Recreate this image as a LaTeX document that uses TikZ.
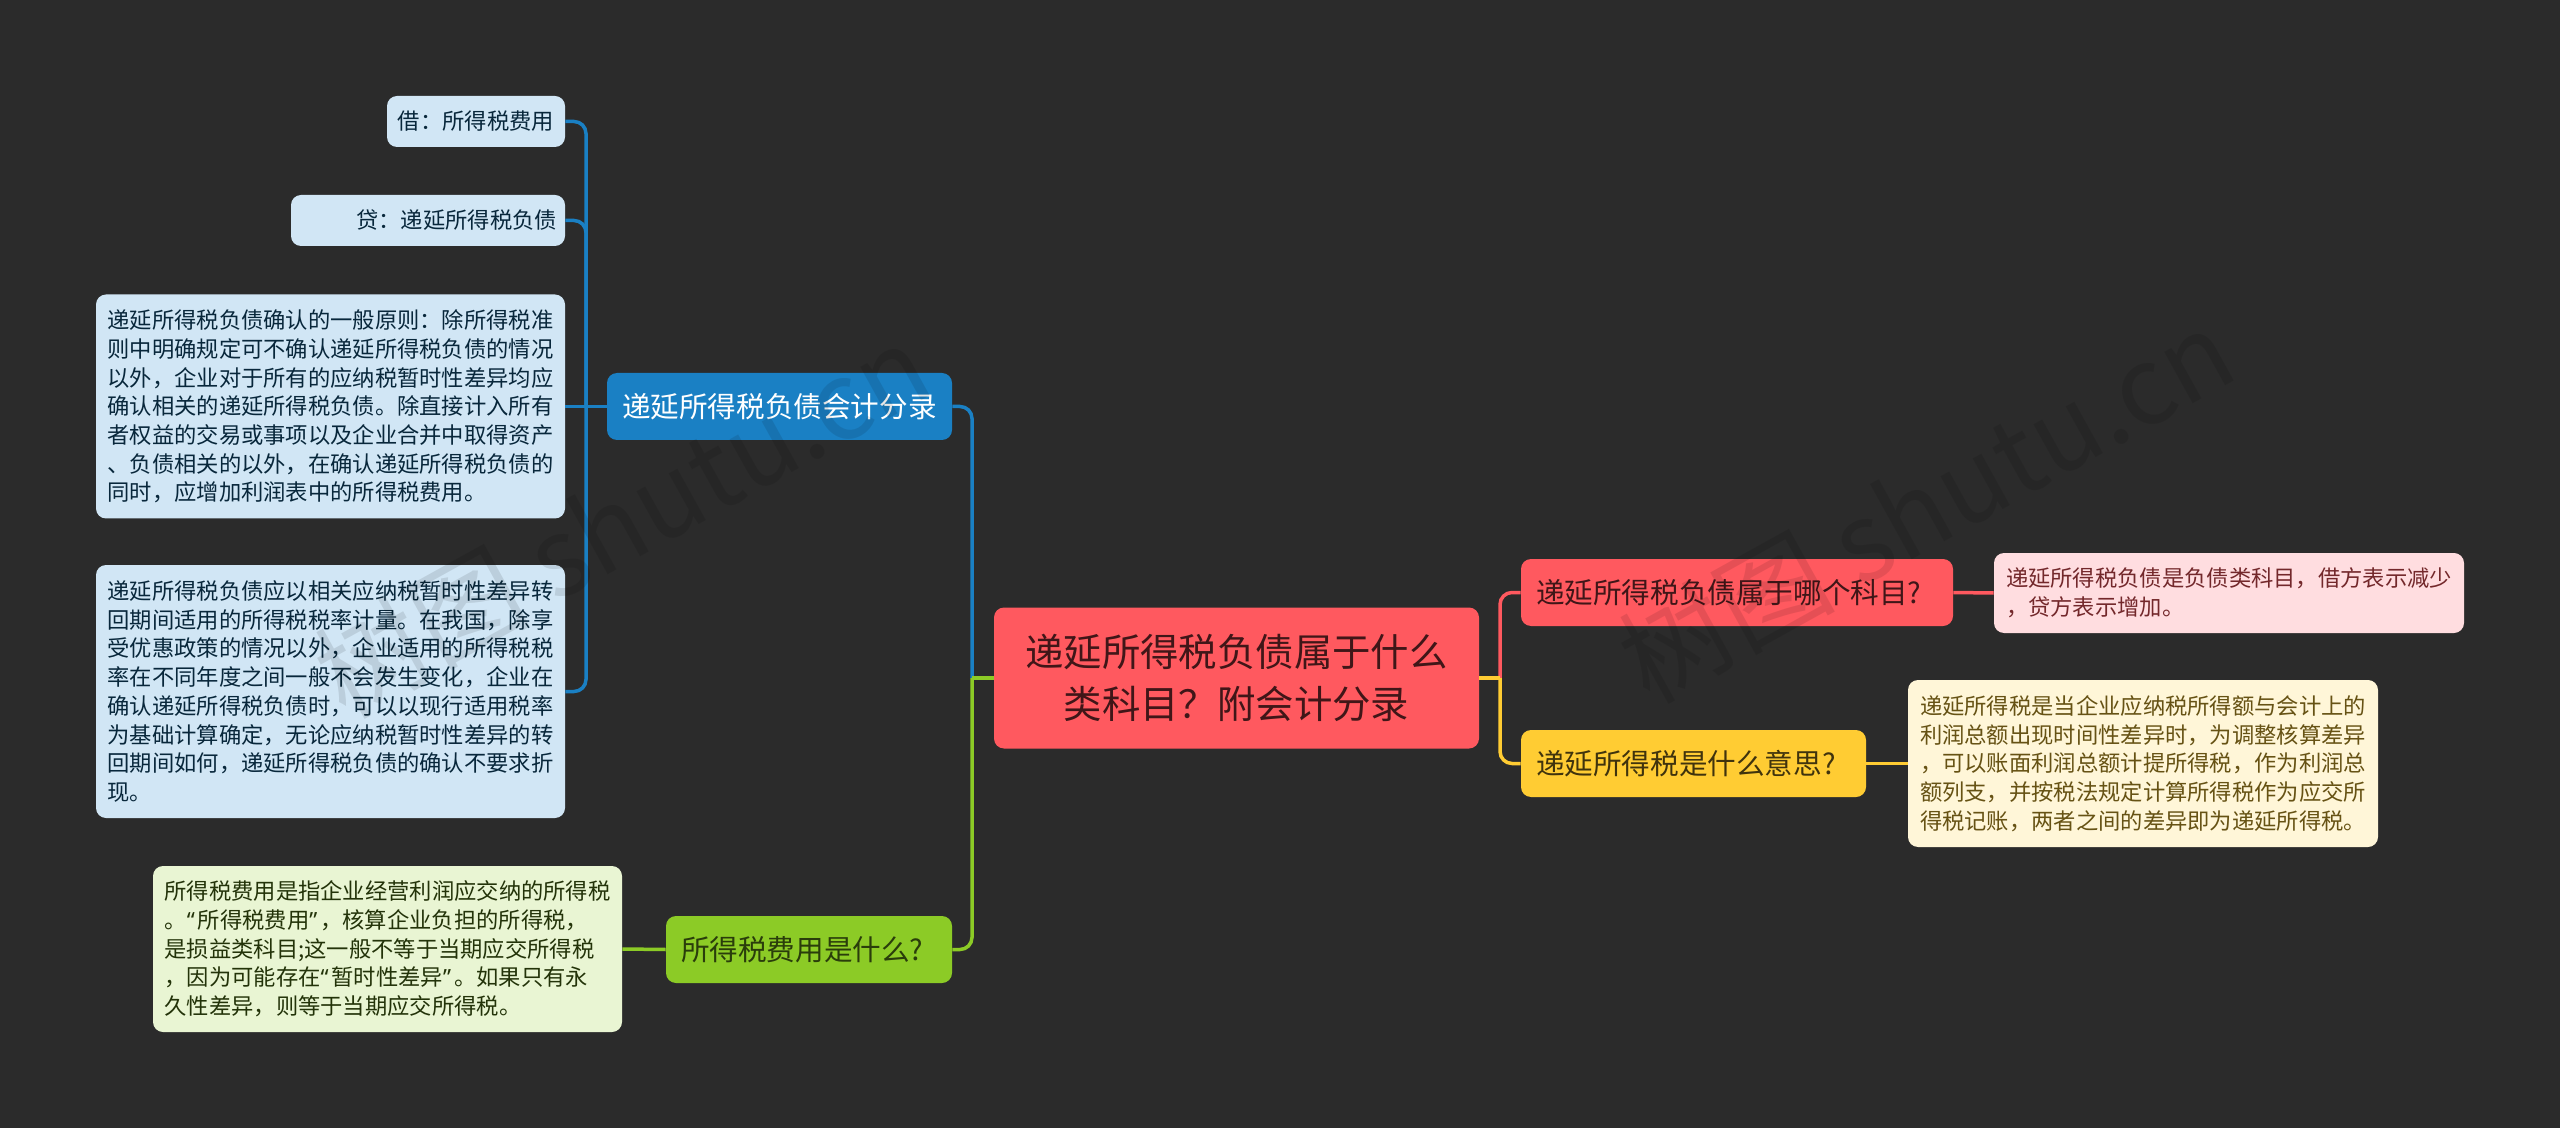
\documentclass[tikz,border=0pt]{standalone}
\usepackage{fontspec}
\setmainfont{Noto Sans CJK SC}
\newfontfamily\quotefont{Noto Sans}
\usetikzlibrary{positioning}
\definecolor{pagebg}{HTML}{2B2B2B}
\definecolor{rootred}{HTML}{FF595F}
\definecolor{blueline}{HTML}{1A80C4}
\definecolor{greenline}{HTML}{8CCB26}
\definecolor{goldline}{HTML}{FFCC33}
\definecolor{leafblue}{HTML}{D1E6F5}
\definecolor{leafgreen}{HTML}{E9F5D3}
\definecolor{leafred}{HTML}{FFDDE0}
\definecolor{leafgold}{HTML}{FFF6D8}
\newcommand{\oq}{{\quotefont “}\kern1.5pt}
\newcommand{\cq}{{\quotefont ”}\kern1.5pt}

\begin{document}
\begin{tikzpicture}
[x=0.5pt,y=-0.5pt,%
  mapbox/.style={shape=rectangle,rounded corners=5pt,inner sep=0pt,align=left},%
  rootbox/.style={mapbox,fill=rootred,text=rootred!25!black,align=center,%
    font=\fontsize{19.2pt}{26pt}\selectfont},%
  branchbox/.style={mapbox,font=\fontsize{14.3pt}{18pt}\selectfont,minimum height=33.5pt,inner xsep=7.5pt},%
  leafbox/.style={mapbox,font=\fontsize{11.15pt}{14.35pt}\selectfont},%
  wmark/.style={font=\fontsize{54pt}{54pt}\selectfont,rotate=29,text=black,text opacity=.1},%
  link/.style={line width=1.75pt,rounded corners=6pt},%
  stub/.style={line width=1.75pt}]
\fill[pagebg] (0,0) rectangle (2560,1128);

\node[rootbox,minimum width=242.5pt,minimum height=70.5pt] (root) at (1236.5,678) {递延所得税负债属于什么\\类科目？附会计分录};

\node[branchbox,fill=blueline,text=white,text width=157.5pt] (acct) at (779.5,406.5) {递延所得税负债会计分录};
\node[branchbox,fill=greenline,text=greenline!30!black,text width=128pt] (expense) at (809,949.5) {所得税费用是什么?};
\node[branchbox,fill=rootred,text=rootred!25!black,text width=201pt] (subject) at (1737,592.5) {递延所得税负债属于哪个科目?};
\node[branchbox,fill=goldline,text=goldline!25!black,text width=157.5pt] (meaning) at (1693.5,763.5) {递延所得税是什么意思?};

\node[leafbox,fill=leafblue,text=blueline!30!black,minimum width=89pt,minimum height=25.5pt] (debit) at (476,121.5) {借：所得税费用};
\node[leafbox,fill=leafblue,text=blueline!30!black,minimum width=137pt,minimum height=25.5pt,text width=129pt,align=right] (credit) at (428,220.5) {贷：递延所得税负债};
\node[leafbox,fill=leafblue,text=blueline!30!black,minimum width=234.5pt,minimum height=112pt] (rule) at (330.5,406.5) {递延所得税负债确认的一般原则：除所得税准\\则中明确规定可不确认递延所得税负债的情况\\以外，企业对于所有的应纳税暂时性差异均应\\确认相关的递延所得税负债。除直接计入所有\\者权益的交易或事项以及企业合并中取得资产\\、负债相关的以外，在确认递延所得税负债的\\同时，应增加利润表中的所得税费用。};
\node[leafbox,fill=leafblue,text=blueline!30!black,minimum width=234.5pt,minimum height=126.5pt] (rate) at (330.5,691.5) {递延所得税负债应以相关应纳税暂时性差异转\\回期间适用的所得税税率计量。在我国，除享\\受优惠政策的情况以外，企业适用的所得税税\\率在不同年度之间一般不会发生变化，企业在\\确认递延所得税负债时，可以以现行适用税率\\为基础计算确定，无论应纳税暂时性差异的转\\回期间如何，递延所得税负债的确认不要求折\\现。};
\node[leafbox,fill=leafgreen,text=greenline!25!black,minimum width=234.5pt,minimum height=83pt] (define) at (387.5,949) {所得税费用是指企业经营利润应交纳的所得税\\。\oq 所得税费用\cq ，核算企业负担的所得税，\\是损益类科目;这一般不等于当期应交所得税\\，因为可能存在\oq 暂时性差异\cq 。如果只有永\\久性差异，则等于当期应交所得税。};
\node[leafbox,fill=leafred,text=rootred!45!black,minimum width=235pt,minimum height=40pt] (liability) at (2229,593) {递延所得税负债是负债类科目，借方表示减少\\，贷方表示增加。};
\node[leafbox,fill=leafgold,text=goldline!40!black,minimum width=235pt,minimum height=83.5pt] (timing) at (2143,763.5) {递延所得税是当企业应纳税所得额与会计上的\\利润总额出现时间性差异时，为调整核算差异\\，可以账面利润总额计提所得税，作为利润总\\额列支，并按税法规定计算所得税作为应交所\\得税记账，两者之间的差异即为递延所得税。};

\coordinate (leftjoin) at (586,406.5);
\coordinate (midjoin) at (972,678);
\coordinate (rightjoin) at (1500,678);

\draw[link,blueline] (debit.east) -| (leftjoin);
\draw[link,blueline] (credit.east) -| (leftjoin);
\draw[link,blueline] (rate.east) -| (leftjoin);
\draw[stub,blueline] (rule.east) -- (acct.west);
\draw[link,blueline] (acct.east) -| (midjoin);
\draw[link,greenline] (expense.east) -| (midjoin);
\draw[stub,greenline] (midjoin) -- (root.west);
\draw[stub,greenline] (define.east) -- (expense.west);
\draw[link,rootred] (subject.west) -| (rightjoin);
\draw[link,goldline] (meaning.west) -| (rightjoin);
\draw[stub,goldline] (root.east) -- (rightjoin);
\draw[stub,rootred] (subject.east) -- (liability.west);
\draw[stub,goldline] (meaning.east) -- (timing.west);

\node[wmark] (markleft) at (622,520) {树图 shutu.cn};
\node[wmark] (markright) at (1926,505) {树图 shutu.cn};
\end{tikzpicture}
\end{document}
